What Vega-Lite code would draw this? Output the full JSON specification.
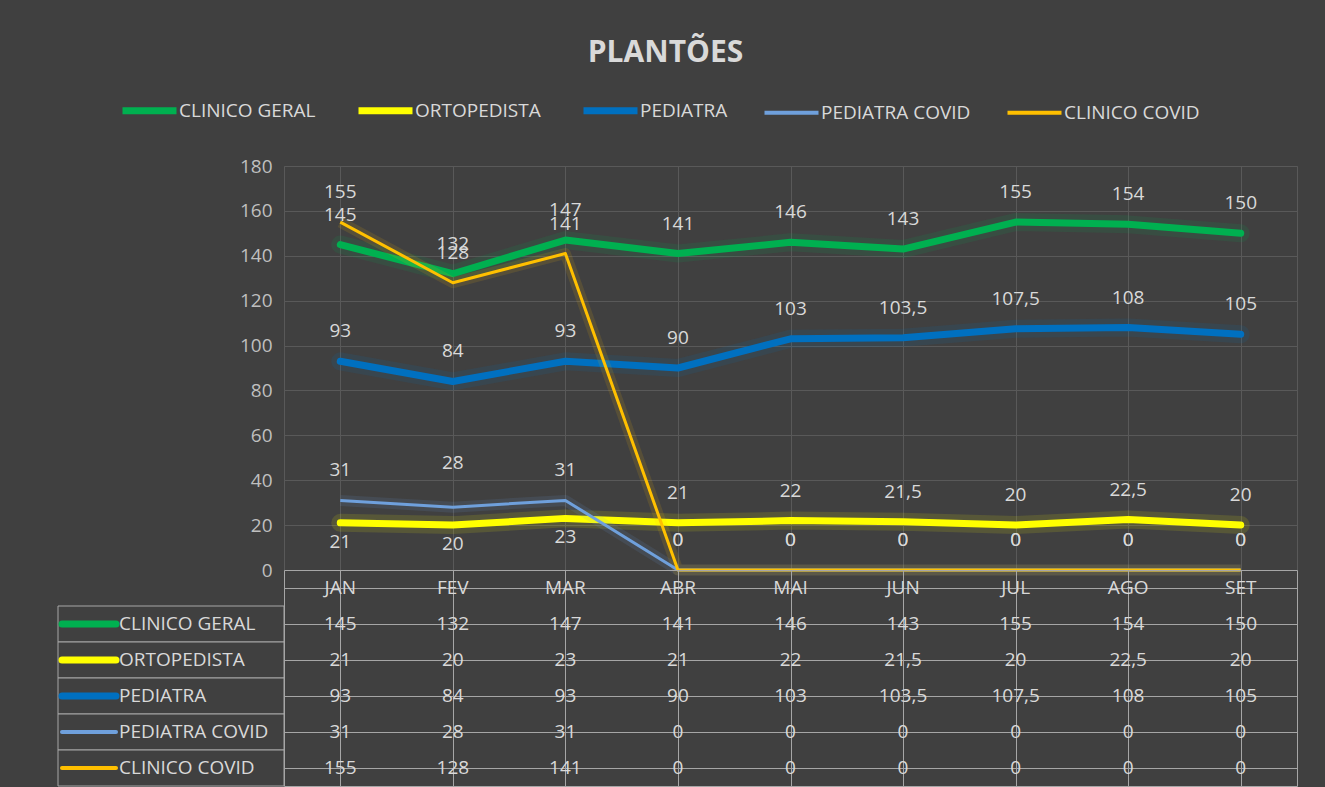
{
  "$schema": "https://vega.github.io/schema/vega-lite/v6.json",
  "background": "#404040",
  "padding": {"left": 57, "top": 38, "right": 29, "bottom": 0},
  "title": {"text": "PLANTÕES", "fontSize": 30, "font": "Open Sans", "fontWeight": "bold", "color": "#d9d9d9", "anchor": "middle", "offset": 33, "dx": -12},
  "config": {
    "locale": {"number": {"decimal": ",", "thousands": ".", "grouping": [3], "currency": ["R$", ""]}},
    "font": "Open Sans",
    "view": {"stroke": null}
  },
  "datasets": {
    "plantoes": [
      {"mes": "JAN", "serie": "CLINICO GERAL", "valor": 145},
      {"mes": "FEV", "serie": "CLINICO GERAL", "valor": 132},
      {"mes": "MAR", "serie": "CLINICO GERAL", "valor": 147},
      {"mes": "ABR", "serie": "CLINICO GERAL", "valor": 141},
      {"mes": "MAI", "serie": "CLINICO GERAL", "valor": 146},
      {"mes": "JUN", "serie": "CLINICO GERAL", "valor": 143},
      {"mes": "JUL", "serie": "CLINICO GERAL", "valor": 155},
      {"mes": "AGO", "serie": "CLINICO GERAL", "valor": 154},
      {"mes": "SET", "serie": "CLINICO GERAL", "valor": 150},
      {"mes": "JAN", "serie": "ORTOPEDISTA", "valor": 21},
      {"mes": "FEV", "serie": "ORTOPEDISTA", "valor": 20},
      {"mes": "MAR", "serie": "ORTOPEDISTA", "valor": 23},
      {"mes": "ABR", "serie": "ORTOPEDISTA", "valor": 21},
      {"mes": "MAI", "serie": "ORTOPEDISTA", "valor": 22},
      {"mes": "JUN", "serie": "ORTOPEDISTA", "valor": 21.5},
      {"mes": "JUL", "serie": "ORTOPEDISTA", "valor": 20},
      {"mes": "AGO", "serie": "ORTOPEDISTA", "valor": 22.5},
      {"mes": "SET", "serie": "ORTOPEDISTA", "valor": 20},
      {"mes": "JAN", "serie": "PEDIATRA", "valor": 93},
      {"mes": "FEV", "serie": "PEDIATRA", "valor": 84},
      {"mes": "MAR", "serie": "PEDIATRA", "valor": 93},
      {"mes": "ABR", "serie": "PEDIATRA", "valor": 90},
      {"mes": "MAI", "serie": "PEDIATRA", "valor": 103},
      {"mes": "JUN", "serie": "PEDIATRA", "valor": 103.5},
      {"mes": "JUL", "serie": "PEDIATRA", "valor": 107.5},
      {"mes": "AGO", "serie": "PEDIATRA", "valor": 108},
      {"mes": "SET", "serie": "PEDIATRA", "valor": 105},
      {"mes": "JAN", "serie": "PEDIATRA COVID", "valor": 31},
      {"mes": "FEV", "serie": "PEDIATRA COVID", "valor": 28},
      {"mes": "MAR", "serie": "PEDIATRA COVID", "valor": 31},
      {"mes": "ABR", "serie": "PEDIATRA COVID", "valor": 0},
      {"mes": "MAI", "serie": "PEDIATRA COVID", "valor": 0},
      {"mes": "JUN", "serie": "PEDIATRA COVID", "valor": 0},
      {"mes": "JUL", "serie": "PEDIATRA COVID", "valor": 0},
      {"mes": "AGO", "serie": "PEDIATRA COVID", "valor": 0},
      {"mes": "SET", "serie": "PEDIATRA COVID", "valor": 0},
      {"mes": "JAN", "serie": "CLINICO COVID", "valor": 155},
      {"mes": "FEV", "serie": "CLINICO COVID", "valor": 128},
      {"mes": "MAR", "serie": "CLINICO COVID", "valor": 141},
      {"mes": "ABR", "serie": "CLINICO COVID", "valor": 0},
      {"mes": "MAI", "serie": "CLINICO COVID", "valor": 0},
      {"mes": "JUN", "serie": "CLINICO COVID", "valor": 0},
      {"mes": "JUL", "serie": "CLINICO COVID", "valor": 0},
      {"mes": "AGO", "serie": "CLINICO COVID", "valor": 0},
      {"mes": "SET", "serie": "CLINICO COVID", "valor": 0}
    ]
  },
  "columns": 2,
  "spacing": 0,
  "bounds": "flush",
  "align": "each",
  "concat": [
    {
      "width": 226,
      "height": 404,
      "data": {"values": []},
      "mark": "point",
      "encoding": {}
    },
    {
      "width": 1013,
      "height": 404,
      "data": {"name": "plantoes"},
      "view": {"stroke": "#595959"},
      "encoding": {
        "x": {
          "field": "mes", "type": "nominal",
          "sort": ["JAN", "FEV", "MAR", "ABR", "MAI", "JUN", "JUL", "AGO", "SET"],
          "scale": {"paddingInner": 0, "paddingOuter": 0},
          "axis": {"labels": false, "ticks": false, "domain": false, "title": null, "grid": true, "bandPosition": 0, "gridColor": "#595959"}
        },
        "y": {
          "field": "valor", "type": "quantitative",
          "scale": {"domain": [0, 180], "nice": false},
          "axis": {"values": [0, 20, 40, 60, 80, 100, 120, 140, 160, 180], "title": null, "domain": false, "ticks": false, "labelPadding": 12, "labelFontSize": 19, "labelColor": "#bfbfbf", "gridColor": "#595959"}
        },
        "color": {
          "field": "serie", "type": "nominal",
          "scale": {"domain": ["CLINICO GERAL", "ORTOPEDISTA", "PEDIATRA", "PEDIATRA COVID", "CLINICO COVID"], "range": ["#00b050", "#ffff00", "#0070c0", "#6fa0dc", "#ffc000"]},
          "legend": {
            "orient": "none", "legendX": 82, "legendY": -65, "direction": "horizontal", "columns": 5,
            "title": null, "symbolType": "stroke", "symbolSize": 2916, "symbolStrokeWidth": 7,
            "labelFontSize": 19, "labelColor": "#d9d9d9", "labelOffset": 20, "columnPadding": 28,
            "encode": {"symbols": {"update": {"strokeWidth": {"signal": "indexof(['PEDIATRA COVID','CLINICO COVID'], datum.value) >= 0 ? 4 : 7"}}}}
          }
        }
      },
      "layer": [
        {
          "transform": [{"filter": "indexof(['CLINICO GERAL','ORTOPEDISTA','PEDIATRA'], datum.serie) >= 0"}],
          "mark": {"type": "line", "strokeWidth": 18, "opacity": 0.12, "strokeCap": "round", "strokeJoin": "round"}
        },
        {
          "transform": [{"filter": "indexof(['CLINICO GERAL','ORTOPEDISTA','PEDIATRA'], datum.serie) >= 0"}],
          "mark": {"type": "line", "strokeWidth": 7, "strokeCap": "round", "strokeJoin": "round"}
        },
        {
          "transform": [{"filter": "indexof(['PEDIATRA COVID','CLINICO COVID'], datum.serie) >= 0"}],
          "mark": {"type": "line", "strokeWidth": 11, "opacity": 0.12, "strokeJoin": "round"}
        },
        {
          "transform": [{"filter": "indexof(['PEDIATRA COVID','CLINICO COVID'], datum.serie) >= 0"}],
          "mark": {"type": "line", "strokeWidth": 3, "strokeJoin": "round"}
        },
        {
          "transform": [{"filter": "!(datum.serie == 'ORTOPEDISTA' && indexof(['JAN','FEV','MAR'], datum.mes) >= 0) && !(datum.serie == 'PEDIATRA COVID' && datum.mes == 'FEV')"}],
          "mark": {"type": "text", "dy": -30, "fontSize": 19, "baseline": "middle"},
          "encoding": {"text": {"field": "valor", "type": "quantitative"}, "color": {"value": "#d9d9d9"}}
        },
        {
          "transform": [{"filter": "datum.serie == 'ORTOPEDISTA' && indexof(['JAN','FEV','MAR'], datum.mes) >= 0"}],
          "mark": {"type": "text", "dy": 19, "fontSize": 19, "baseline": "middle"},
          "encoding": {"text": {"field": "valor", "type": "quantitative"}, "color": {"value": "#d9d9d9"}}
        },
        {
          "transform": [{"filter": "datum.serie == 'PEDIATRA COVID' && datum.mes == 'FEV'"}],
          "mark": {"type": "text", "dy": -44, "fontSize": 19, "baseline": "middle"},
          "encoding": {"text": {"field": "valor", "type": "quantitative"}, "color": {"value": "#d9d9d9"}}
        }
      ]
    },
    {
      "width": 226,
      "height": 216,
      "data": {"name": "plantoes"},
      "transform": [{"filter": "datum.mes == 'JAN'"}],
      "encoding": {
        "y": {
          "field": "serie", "type": "nominal",
          "scale": {"domain": ["MÊS", "CLINICO GERAL", "ORTOPEDISTA", "PEDIATRA", "PEDIATRA COVID", "CLINICO COVID"], "paddingInner": 0, "paddingOuter": 0},
          "axis": null
        }
      },
      "layer": [
        {
          "mark": {"type": "rect", "fill": "#404040", "stroke": "#a6a6a6", "strokeWidth": 1},
          "encoding": {
            "x": {"datum": 0, "type": "quantitative", "scale": {"domain": [0, 226], "nice": false, "zero": false}, "axis": null},
            "x2": {"datum": 226}
          }
        },
        {
          "mark": {"type": "rule", "strokeCap": "round"},
          "encoding": {
            "x": {"datum": 4, "type": "quantitative"},
            "x2": {"datum": 58},
            "color": {
              "field": "serie", "type": "nominal",
              "scale": {"domain": ["CLINICO GERAL", "ORTOPEDISTA", "PEDIATRA", "PEDIATRA COVID", "CLINICO COVID"], "range": ["#00b050", "#ffff00", "#0070c0", "#6fa0dc", "#ffc000"]},
              "legend": null
            },
            "strokeWidth": {"condition": {"test": "indexof(['PEDIATRA COVID','CLINICO COVID'], datum.serie) >= 0", "value": 4}, "value": 7}
          }
        },
        {
          "mark": {"type": "text", "align": "left", "baseline": "middle", "fontSize": 19, "color": "#d9d9d9"},
          "encoding": {
            "x": {"datum": 61, "type": "quantitative"},
            "text": {"field": "serie", "type": "nominal"}
          }
        }
      ]
    },
    {
      "width": 1013,
      "height": 216,
      "data": {"name": "plantoes"},
      "view": {"stroke": "#a6a6a6"},
      "encoding": {
        "x": {
          "field": "mes", "type": "nominal",
          "sort": ["JAN", "FEV", "MAR", "ABR", "MAI", "JUN", "JUL", "AGO", "SET"],
          "scale": {"paddingInner": 0, "paddingOuter": 0},
          "axis": {"labels": false, "ticks": false, "domain": false, "title": null, "grid": true, "bandPosition": 0, "gridColor": "#a6a6a6"}
        },
        "y": {
          "field": "serie", "type": "nominal",
          "scale": {"domain": ["MÊS", "CLINICO GERAL", "ORTOPEDISTA", "PEDIATRA", "PEDIATRA COVID", "CLINICO COVID"], "paddingInner": 0, "paddingOuter": 0},
          "axis": {"labels": false, "ticks": false, "domain": false, "title": null, "grid": true, "bandPosition": 0, "gridColor": "#a6a6a6"}
        }
      },
      "layer": [
        {
          "mark": {"type": "text", "fontSize": 19, "color": "#d9d9d9", "baseline": "middle"},
          "encoding": {"text": {"field": "valor", "type": "quantitative"}}
        },
        {
          "transform": [{"filter": "datum.serie == 'CLINICO GERAL'"}],
          "mark": {"type": "text", "fontSize": 19, "color": "#d9d9d9", "baseline": "middle"},
          "encoding": {
            "y": {"datum": "MÊS", "type": "nominal"},
            "text": {"field": "mes", "type": "nominal"}
          }
        }
      ]
    }
  ]
}
